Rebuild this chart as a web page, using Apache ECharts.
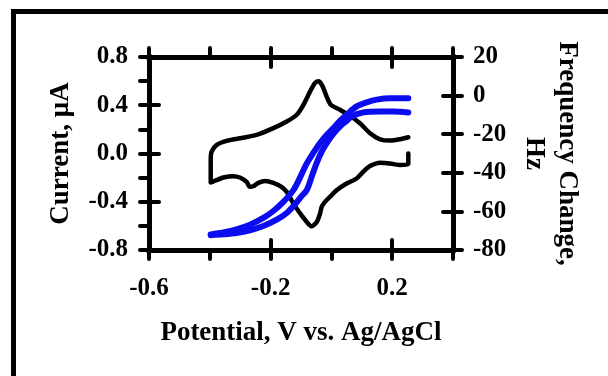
<!DOCTYPE html>
<html><head><meta charset="utf-8">
<script src="https://cdn.jsdelivr.net/npm/echarts@6/dist/echarts.min.js"></script>
<style>html,body{margin:0;padding:0;background:#fff}#c{width:608px;height:376px}</style>
</head><body><div id="c"></div>
<script>
// Cyclic voltammogram (black): lower (cathodic) branch right->left, then upper branch left->right
const cvPotential = [0.253,0.253,0.226,0.193,0.160,0.127,0.105,0.083,0.050,0.017,-0.005,-0.021,-0.032,-0.0375,-0.048,-0.065,-0.081,-0.098,-0.114,-0.131,-0.147,-0.164,-0.191,-0.218,-0.240,-0.257,-0.268,-0.279,-0.301,-0.323,-0.355,-0.383,-0.397,-0.397,
  -0.397,-0.394,-0.377,-0.345,-0.301,-0.246,-0.191,-0.147,-0.114,-0.092,-0.070,-0.054,-0.041,-0.029,-0.016,-0.002,0.028,0.061,0.094,0.127,0.160,0.193,0.226,0.253];
const cvCurrent = [0.001,-0.088,-0.096,-0.082,-0.076,-0.104,-0.151,-0.207,-0.249,-0.304,-0.360,-0.401,-0.443,-0.499,-0.568,-0.604,-0.568,-0.513,-0.457,-0.388,-0.318,-0.276,-0.243,-0.229,-0.243,-0.271,-0.276,-0.235,-0.199,-0.188,-0.199,-0.226,-0.240,-0.165,
  -0.054,0.015,0.071,0.104,0.126,0.154,0.210,0.265,0.321,0.404,0.515,0.585,0.599,0.557,0.474,0.404,0.363,0.313,0.251,0.168,0.118,0.107,0.118,0.135];
// Frequency change (blue), two branches
const freqPotentialA = [-0.397,-0.356,-0.312,-0.268,-0.224,-0.191,-0.158,-0.125,-0.103,-0.081,-0.059,-0.038,-0.016,0.006,0.028,0.050,0.083,0.116,0.149,0.193,0.253];
const freqA = [-71.9,-70.9,-69.3,-66.9,-63.4,-59.8,-55.1,-49.0,-42.4,-35.1,-29.6,-24.7,-20.4,-16.9,-13.1,-9.9,-5.6,-3.5,-2.1,-1.4,-1.4];
const freqPotentialB = [-0.397,-0.356,-0.312,-0.268,-0.224,-0.180,-0.147,-0.120,-0.098,-0.081,-0.065,-0.049,-0.032,-0.016,0.006,0.028,0.050,0.067,0.105,0.160,0.204,0.253];
const freqB = [-72.3,-71.9,-71.2,-69.8,-67.6,-64.3,-60.8,-56.3,-52.1,-49.0,-42.1,-35.1,-29.0,-24.7,-19.8,-16.0,-13.1,-10.8,-8.7,-8.2,-8.2,-8.7];
// Axis ticks and labels
const xTicks = [-0.6,-0.4,-0.2,0,0.2,0.4];
const xLabels = [-0.6,-0.2,0.2];
const xMajor = [-0.6,-0.2,0.2,0.4];
const leftTicks = [-0.8,-0.6,-0.4,-0.2,0,0.2,0.4,0.6,0.8];
const leftLabels = [-0.8,-0.4,0,0.4,0.8];
const rightTicks = [-80,-60,-40,-20,0,20];

const pairs = (xs, ys) => xs.map((x, i) => [x, ys[i]]);
const FONT = "'Liberation Serif','Times New Roman',serif";
const lbl = {fontFamily: FONT, fontWeight: 'bold', fontSize: 25, color: '#000'};
const tickStyle = {color: '#000', width: 4, cap: 'round'};
const line = {show: true, onZero: false, lineStyle: {color: '#000', width: 5, cap: 'square'}};
const noLine = {show: false, onZero: false};

function xAx(pos, inside, ticks, withLine, extra) {
  return Object.assign({
    type: 'value', position: pos, min: -0.6, max: 0.4, interval: 0.2,
    axisLine: withLine ? line : noLine,
    axisTick: {show: true, inside: inside, length: inside ? 10 : 9, customValues: ticks, lineStyle: tickStyle},
    axisLabel: {show: false}, splitLine: {show: false}
  }, extra || {});
}
function yAx(pos, min, max, interval, inside, ticks, withLine, extra) {
  return Object.assign({
    type: 'value', position: pos, min: min, max: max, interval: interval,
    axisLine: withLine ? line : noLine,
    axisTick: {show: true, inside: inside, length: inside ? 10 : 9, customValues: ticks, lineStyle: tickStyle},
    axisLabel: {show: false}, splitLine: {show: false}
  }, extra || {});
}

const chart = echarts.init(document.getElementById('c'), null, {renderer: 'canvas'});
chart.setOption({
  animation: false,
  backgroundColor: '#fff',
  grid: {left: 149, right: 155, top: 57, bottom: 126},
  graphic: [{type: 'rect', shape: {x: 13.5, y: 11.5, width: 620, height: 420},
    style: {fill: 'none', stroke: '#000', lineWidth: 5}, silent: true}],
  xAxis: [
    xAx('bottom', false, xTicks, true, {
      axisLabel: Object.assign({show: true, margin: 26, customValues: xLabels,
        formatter: v => (+v).toFixed(1)}, lbl),
      name: 'Potential, V vs. Ag/AgCl', nameLocation: 'middle', nameGap: 70,
      nameTextStyle: {fontFamily: FONT, fontWeight: 'bold', fontSize: 27, color: '#000', lineHeight: 27}
    }),
    xAx('bottom', true, xMajor, false),
    xAx('top', false, xTicks, true),
    xAx('top', true, xMajor, false)
  ],
  yAxis: [
    yAx('left', -0.8, 0.8, 0.2, false, leftTicks, true, {
      axisLabel: Object.assign({show: true, margin: 21, customValues: leftLabels,
        formatter: v => (+v).toFixed(1)}, lbl),
      name: 'Current, μA', nameLocation: 'middle', nameRotate: 90, nameGap: 74,
      nameTextStyle: {fontFamily: FONT, fontWeight: 'bold', fontSize: 27, color: '#000', lineHeight: 27}
    }),
    yAx('left', -0.8, 0.8, 0.2, true, leftLabels, false),
    yAx('right', -80, 20, 20, false, rightTicks, true, {
      axisLabel: Object.assign({show: true, margin: 20, customValues: rightTicks,
        formatter: v => String(Math.round(v))}, lbl),
      name: 'Frequency Change,\nHz', nameLocation: 'middle', nameRotate: -90, nameGap: 64,
      nameTextStyle: {fontFamily: FONT, fontWeight: 'bold', fontSize: 27, color: '#000', lineHeight: 33}
    }),
    yAx('right', -80, 20, 20, true, rightTicks, false)
  ],
  series: [
    {type: 'line', name: 'Current', xAxisIndex: 0, yAxisIndex: 0, data: pairs(cvPotential, cvCurrent),
      showSymbol: false, smooth: 0.25, lineStyle: {color: '#000', width: 4.5, cap: 'round', join: 'round'}, z: 2},
    {type: 'line', name: 'Frequency A', xAxisIndex: 0, yAxisIndex: 2, data: pairs(freqPotentialA, freqA),
      showSymbol: false, smooth: 0.3, lineStyle: {color: '#0c0cf0', width: 6, cap: 'round', join: 'round'}, z: 3},
    {type: 'line', name: 'Frequency B', xAxisIndex: 0, yAxisIndex: 2, data: pairs(freqPotentialB, freqB),
      showSymbol: false, smooth: 0.3, lineStyle: {color: '#0c0cf0', width: 6, cap: 'round', join: 'round'}, z: 3}
  ]
});
</script></body></html>
